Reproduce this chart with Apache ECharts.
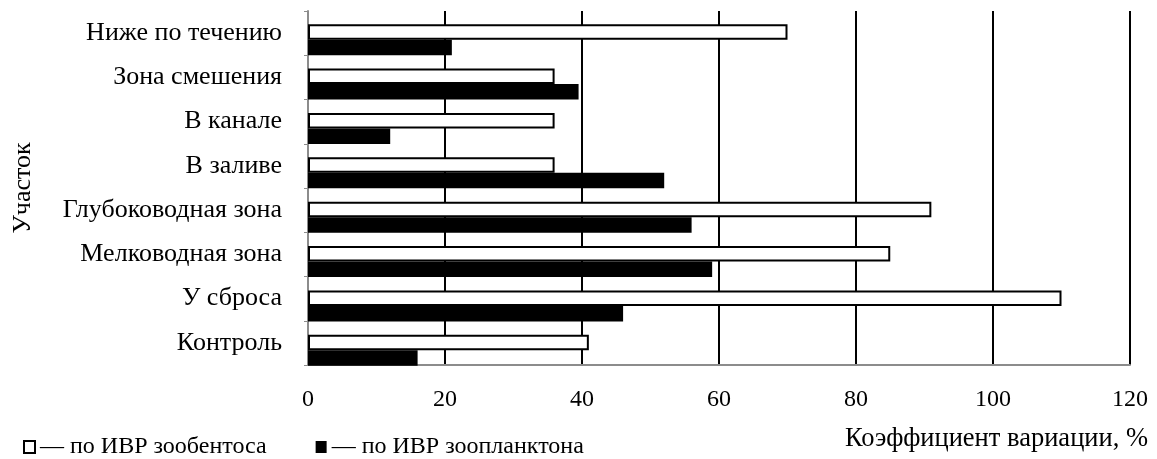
<!DOCTYPE html>
<html>
<head>
<meta charset="utf-8">
<script src="https://cdn.jsdelivr.net/npm/echarts@6/dist/echarts.min.js"></script>
<style>
html,body{margin:0;padding:0;background:#fff;}
#c{width:1157px;height:459px;}
</style>
</head>
<body>
<div id="c"></div>
<script>
const categories = ['Ниже по течению','Зона смешения','В канале','В заливе','Глубоководная зона','Мелководная зона','У сброса','Контроль'];
const zoobenthos = [70, 36, 36, 36, 91, 85, 110, 41];
const zooplankton = [21, 39.5, 12, 52, 56, 59, 46, 16];
const seriesNames = ['по ИВР зообентоса', 'по ИВР зоопланктона'];
const xTicks = [0, 20, 40, 60, 80, 100, 120];
const xName = 'Коэффициент вариации, %';
const yName = 'Участок';

const FONT = 'Liberation Serif';
const chart = echarts.init(document.getElementById('c'), null, {renderer:'canvas'});
chart.setOption({
  backgroundColor:'#fff',
  animation:false,
  textStyle:{fontFamily:FONT, color:'#000'},
  legend:{
    left:18, top:430,
    itemWidth:11, itemHeight:12, itemGap:49,
    formatter:'— {name}',
    textStyle:{fontFamily:FONT, fontSize:24, color:'#000'},
    data:[
      {name:seriesNames[0], icon:'rect', itemStyle:{color:'#fff', borderColor:'#000', borderWidth:2}},
      {name:seriesNames[1], icon:'rect', itemStyle:{color:'#000', borderColor:'#000', borderWidth:0}}
    ]
  },
  grid:[
    {left:308, right:27, top:11, bottom:94, containLabel:false, outerBoundsMode:'none'},
    {left:308, right:27, top:17.5, bottom:86.5, containLabel:false, outerBoundsMode:'none'}
  ],
  xAxis:[
    {
      type:'value', gridIndex:0, min:xTicks[0], max:xTicks[xTicks.length-1], interval:20,
      name:xName, nameLocation:'end', nameGap:18,
      nameTextStyle:{fontFamily:FONT, fontSize:26.5, color:'#000', align:'right', verticalAlign:'top', padding:[61,0,0,0]},
      axisLine:{show:true, lineStyle:{color:'#8c8c8c', width:2}},
      axisTick:{show:false},
      axisLabel:{fontFamily:FONT, fontSize:24, color:'#000', margin:23},
      splitLine:{show:true, lineStyle:{color:['#8c8c8c','#000','#000','#000','#000','#000','#000'], width:2}}
    },
    {type:'value', gridIndex:1, min:xTicks[0], max:xTicks[xTicks.length-1], show:false, splitLine:{show:false}}
  ],
  yAxis:[
    {
      type:'category', gridIndex:0, data:categories, inverse:true,
      name:yName, nameLocation:'middle', nameGap:272, nameRotate:90,
      nameTextStyle:{fontFamily:FONT, fontSize:26, color:'#000'},
      axisLine:{show:true, lineStyle:{color:'#8c8c8c', width:2}},
      axisTick:{show:true, length:4, lineStyle:{color:'#8c8c8c', width:1}},
      axisLabel:{fontFamily:FONT, fontSize:26, color:'#000', margin:26}
    },
    {type:'category', gridIndex:1, data:categories, inverse:true, show:false}
  ],
  series:[
    {
      name:seriesNames[0], type:'bar', xAxisIndex:1, yAxisIndex:1,
      data:zoobenthos, barWidth:15.5, barGap:'0%',
      itemStyle:{color:'#fff', borderColor:'#000', borderWidth:2},
      z:3
    },
    {
      name:seriesNames[1], type:'bar', xAxisIndex:1, yAxisIndex:1,
      data:zooplankton, barWidth:15.5, barGap:'0%',
      itemStyle:{color:'#000', borderColor:'#000', borderWidth:0},
      z:3
    }
  ]
});
</script>
</body>
</html>
